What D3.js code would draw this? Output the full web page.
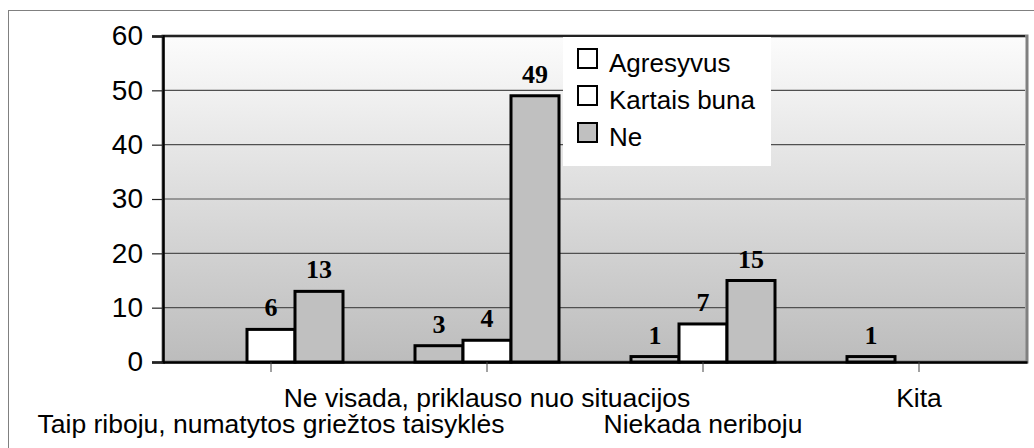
<!DOCTYPE html>
<html lang="lt">
<head>
<meta charset="UTF-8">
<title>Agresyvus</title>
<script src="https://d3js.org/d3.v7.min.js"></script>
<style>
    body { margin: 0; background: #fff; }
    svg { display: block; }
</style>
</head>
<body>
<svg id="chart"></svg>
<script>
    // values
    const categories = [
        "Taip riboju, numatytos griežtos taisyklės",
        "Ne visada, priklauso nuo situacijos",
        "Niekada neriboju",
        "Kita"
    ];
    const seriesNames = ["Agresyvus", "Kartais buna", "Ne"];
    const agresyvus = [0, 3, 1, 1];
    const kartaisBuna = [6, 4, 7, 0];
    const ne = [13, 49, 15, 0];
    const yTicks = [0, 10, 20, 30, 40, 50, 60];

    const width = 1034, height = 448;
    const plotLeft = 163, plotRight = 1027, plotTop = 36, plotBottom = 362;

    const svg = d3.select("#chart").attr("width", width).attr("height", height);

    const barFill = ["#c0c0c0", "#ffffff", "#c0c0c0"];
    const legendFill = ["#ffffff", "#ffffff", "#c0c0c0"];
    const values = [agresyvus, kartaisBuna, ne];

    const x0 = d3.scaleBand().domain(categories).range([plotLeft, plotRight]).paddingInner(1 / 3).paddingOuter(1 / 6);
    const x1 = d3.scaleBand().domain(seriesNames).range([0, x0.bandwidth()]);
    const y = d3.scaleLinear().domain([0, 60]).range([plotBottom, plotTop]);

    // outer frame
    svg.append("rect")
        .attr("x", 8.5).attr("y", 10.5)
        .attr("width", 1040).attr("height", 460)
        .attr("fill", "none").attr("stroke", "#808080");

    const grad = svg.append("defs").append("linearGradient")
        .attr("id", "bg").attr("x1", 0).attr("y1", 0).attr("x2", 0).attr("y2", 1);
    grad.append("stop").attr("offset", "0%").attr("stop-color", "#fcfcfc");
    grad.append("stop").attr("offset", "100%").attr("stop-color", "#bcbcbc");

    // plot area
    svg.append("rect")
        .attr("x", plotLeft).attr("y", plotTop)
        .attr("width", plotRight - plotLeft).attr("height", plotBottom - plotTop)
        .attr("fill", "url(#bg)")
        .attr("stroke", "#808080").attr("stroke-width", 3);

    // grid
    svg.append("g")
        .selectAll("line")
        .data(yTicks.slice(1))
        .join("line")
        .attr("x1", plotLeft).attr("x2", plotRight - 2)
        .attr("y1", d => y(d)).attr("y2", d => y(d))
        .attr("stroke", d => d === 60 ? "#222" : "#505050")
        .attr("stroke-width", d => d === 60 ? 2 : 1.2);

    // bars
    const groups = svg.append("g")
        .selectAll("g")
        .data(categories)
        .join("g")
        .attr("transform", d => `translate(${x0(d)},0)`);

    const cells = (c, i) => seriesNames.map((s, j) => ({ s, j, v: values[j][i] })).filter(d => d.v > 0);

    groups.selectAll("rect")
        .data(cells)
        .join("rect")
        .attr("x", d => x1(d.s))
        .attr("y", d => y(d.v))
        .attr("width", x1.bandwidth())
        .attr("height", d => y(0) - y(d.v))
        .attr("fill", d => barFill[d.j])
        .attr("stroke", "#000")
        .attr("stroke-width", 3);

    groups.selectAll("text")
        .data(cells)
        .join("text")
        .attr("x", d => x1(d.s) + x1.bandwidth() / 2)
        .attr("y", d => y(d.v) - 13)
        .attr("text-anchor", "middle")
        .attr("font-family", "'Liberation Serif', 'Times New Roman', serif")
        .attr("font-weight", "bold")
        .attr("font-size", 26)
        .text(d => d.v);

    // y axis
    const yAxis = svg.append("g")
        .attr("transform", `translate(${plotLeft},0)`)
        .call(d3.axisLeft(y).tickValues(yTicks).tickSize(11).tickPadding(9));
    yAxis.select(".domain").attr("stroke", "#000").attr("stroke-width", 2.5);
    yAxis.selectAll(".tick line").attr("stroke", "#222").attr("stroke-width", 1.2);
    yAxis.selectAll("text")
        .attr("font-family", "'Liberation Sans', Arial, sans-serif")
        .attr("font-size", 28).attr("fill", "#000");

    // x axis
    const xAxis = svg.append("g")
        .attr("transform", `translate(0,${plotBottom})`)
        .call(d3.axisBottom(x0).tickSize(10).tickSizeOuter(0));
    xAxis.select(".domain").attr("stroke", "#000").attr("stroke-width", 2.5);
    xAxis.selectAll(".tick line").attr("stroke", "#444").attr("stroke-width", 1);
    xAxis.selectAll("text")
        .attr("font-family", "'Liberation Sans', Arial, sans-serif")
        .attr("font-size", 26.5).attr("fill", "#000")
        .attr("dy", null)
        .attr("y", (d, i) => i % 2 === 1 ? 45 : 71);

    // legend
    const legend = svg.append("g");
    legend.append("rect")
        .attr("x", 563).attr("y", 37).attr("width", 208).attr("height", 129)
        .attr("fill", "#fff");
    const item = legend.selectAll("g")
        .data(seriesNames)
        .join("g")
        .attr("transform", (d, i) => `translate(578,${49 + i * 37})`);
    item.append("rect")
        .attr("width", 19).attr("height", 19)
        .attr("fill", (d, i) => legendFill[i])
        .attr("stroke", "#000").attr("stroke-width", 2);
    item.append("text")
        .attr("x", 31).attr("y", 23)
        .attr("font-family", "'Liberation Sans', Arial, sans-serif")
        .attr("font-size", 26)
        .text(d => d);
</script>
</body>
</html>
